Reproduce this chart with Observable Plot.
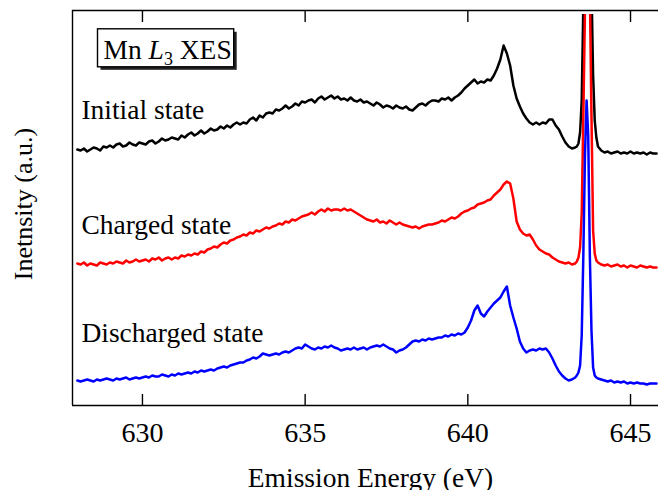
<!DOCTYPE html>
<html><head><meta charset="utf-8">
<script src="https://cdn.jsdelivr.net/npm/d3@7"></script>
<script src="https://cdn.jsdelivr.net/npm/@observablehq/plot@0.6"></script>
<style>html,body{margin:0;padding:0;background:#fff} svg{display:block}</style>
</head><body><div id="chart"></div>
<script>
const energy = [
628.0,628.1,628.2,628.3,628.4,628.5,628.6,628.7,628.8,628.9,
629.0,629.1,629.2,629.3,629.4,629.5,629.6,629.7,629.8,629.9,
630.0,630.1,630.2,630.3,630.4,630.5,630.6,630.7,630.8,630.9,
631.0,631.1,631.2,631.3,631.4,631.5,631.6,631.7,631.8,631.9,
632.0,632.1,632.2,632.3,632.4,632.5,632.6,632.7,632.8,632.9,
633.0,633.1,633.2,633.3,633.4,633.5,633.6,633.7,633.8,633.9,
634.0,634.1,634.2,634.3,634.4,634.5,634.6,634.7,634.8,634.9,
635.0,635.1,635.2,635.3,635.4,635.5,635.6,635.7,635.8,635.9,
636.0,636.1,636.2,636.3,636.4,636.5,636.6,636.7,636.8,636.9,
637.0,637.1,637.2,637.3,637.4,637.5,637.6,637.7,637.8,637.9,
638.0,638.1,638.2,638.3,638.4,638.5,638.6,638.7,638.8,638.9,
639.0,639.1,639.2,639.3,639.4,639.5,639.6,639.7,639.8,639.9,
640.0,640.1,640.2,640.3,640.4,640.5,640.6,640.7,640.8,640.9,
641.0,641.1,641.2,641.3,641.4,641.5,641.6,641.7,641.8,641.9,
642.0,642.1,642.2,642.3,642.4,642.5,642.6,642.7,642.8,642.9,
643.0,643.1,643.2,643.3,
643.35,643.4,643.45,643.5,643.55,643.6,643.65,643.7,643.75,643.8,643.85,643.9,643.95,644.0,
644.1,644.2,644.3,644.4,644.5,644.6,644.7,644.8,644.9,645.0,645.1,645.2,645.3,645.4,645.5,645.6,645.7,645.8
];
const initialState = [
256,255,257,254,256,258,257,255,259,258,
260,258,261,262,259,260,263,261,260,263,
262,261,264,265,262,264,267,265,266,268,
267,266,270,268,271,273,270,272,275,272,
274,277,275,276,279,277,280,278,281,283,
281,283,282,286,288,285,290,288,292,293,
292,296,295,297,300,297,299,302,300,304,
303,305,306,303,307,309,306,308,310,307,
309,306,307,305,308,305,304,306,303,304,
302,300,303,301,298,300,299,297,300,298,
297,299,296,295,298,301,302,300,303,305,
305,304,307,306,308,305,308,310,313,317,
320,323,326,322,324,323,326,325,330,337,
346,360,352,340,320,307,299,292,287,283,
281,283,281,283,282,286,286,280,276,269,
263,259,257,258,
259,262,273,305,400,560,650,640,540,420,330,285,268,259,
255,253,254,252,253,254,252,253,252,254,252,253,252,253,251,253,252,252
];
const chargedState = [
142,141,143,140,142,141,140,143,142,141,
143,142,144,143,142,145,143,144,146,144,
145,146,144,147,146,148,145,147,148,146,
148,147,150,149,151,150,152,151,154,153,
156,157,159,158,161,163,162,165,166,168,
169,171,170,173,172,175,174,176,178,177,
179,180,182,181,184,183,186,185,187,189,
190,191,193,191,194,196,194,197,195,196,
196,195,197,195,196,194,192,190,188,186,
185,184,186,183,184,182,185,183,181,183,
181,180,179,178,179,177,179,180,181,181,
182,183,185,184,186,188,187,189,192,194,
195,197,198,201,202,203,205,206,210,213,
216,221,224,222,207,184,176,172,170,171,
166,160,156,154,152,151,148,146,144,143,
142,143,141,142,
144,148,158,192,290,395,500,480,415,290,175,152,145,143,
141,140,141,139,140,141,139,140,138,140,139,138,140,139,138,139,138,138
];
const dischargedState = [
25,24,25,26,25,24,26,25,26,27,
26,25,27,26,27,28,26,27,28,27,
28,29,28,30,29,29,31,30,29,31,
30,32,31,32,33,32,34,33,35,34,
35,36,35,37,38,39,38,40,41,42,
43,43,45,46,48,47,49,52,51,50,
51,52,51,53,54,53,55,57,58,57,
61,59,57,56,58,57,59,58,60,58,
57,55,56,57,56,58,56,57,58,56,
58,59,60,59,61,59,57,56,53,55,
56,58,61,64,65,64,66,65,67,66,
67,68,68,70,69,71,70,72,71,73,
78,85,95,100,92,89,94,98,102,105,
108,114,119,100,88,77,64,57,53,55,
56,55,57,56,57,53,47,40,34,30,
27,25,26,28,
30,33,40,70,150,250,305,270,150,75,38,30,28,27,
26,25,24,25,23,24,23,24,22,23,22,23,22,22,21,22,22,22
];
const seriesNames = ["Initial state", "Charged state", "Discharged state"];
const seriesColors = ["#000000", "#ff0000", "#0000ff"];
const xTicks = [630, 635, 640, 645];
const xDomain = [627.85, 645.86];
const yDomain = [0, 391];
const xTitle = "Emission Energy (eV)";
const yTitle = "Inetnsity (a.u.)";
const boxLabel = "Mn L3 XES";

const seriesValues = [initialState, chargedState, dischargedState];
const rows = seriesValues.flatMap((vals, i) =>
  vals.map((v, j) => ({series: seriesNames[i], energy: energy[j], intensity: v})));
const starts = seriesValues.map((vals, i) =>
  ({series: seriesNames[i], energy: energy[0], intensity: vals[0]}));

const font = "'Liberation Serif','Times New Roman',serif";
const frameW = 1.4;
const fs = 27.5;

const svg = Plot.plot({
  width: 658, height: 490,
  marginLeft: 72, marginRight: 0, marginTop: 14, marginBottom: 85,
  style: {fontFamily: font, background: "#fff", color: "#000", overflow: "visible"},
  x: {domain: xDomain},
  y: {domain: yDomain, axis: null},
  color: {domain: seriesNames, range: seriesColors},
  marks: [
    Plot.line(rows, {x: "energy", y: "intensity", z: "series", stroke: "series", strokeWidth: 2.5, clip: true}),
    Plot.ruleY([yDomain[0]], {stroke: "#000", strokeWidth: frameW}),
    Plot.ruleY([yDomain[1]], {stroke: "#000", strokeWidth: frameW, dy: -4}),
    Plot.ruleX([xDomain[0]], {stroke: "#000", strokeWidth: frameW, insetTop: -4}),
    Plot.axisX(xTicks, {anchor: "bottom", tickSize: -11, tickPadding: 27.5, fontSize: 28, fontFamily: font, label: null, strokeWidth: frameW}),
    Plot.axisX(xTicks, {anchor: "top", tickSize: -11, dy: -4, tickFormat: () => "", label: null, strokeWidth: frameW}),
    Plot.text([starts[0]], {x: "energy", y: "intensity", text: "series", textAnchor: "start", lineAnchor: "middle", dx: 4, dy: -39.8, fontSize: fs, fill: "#000"}),
    Plot.text([starts[1]], {x: "energy", y: "intensity", text: "series", textAnchor: "start", lineAnchor: "middle", dx: 4, dy: -38.5, fontSize: fs, fill: "#000"}),
    Plot.text([starts[2]], {x: "energy", y: "intensity", text: "series", textAnchor: "start", lineAnchor: "middle", dx: 4, dy: -47.1, fontSize: fs, fill: "#000"}),
    Plot.text([xTitle], {frameAnchor: "bottom", text: d => d, textAnchor: "middle", lineAnchor: "middle", dx: 5, dy: 72.9, fontSize: fs, fill: "#000"}),
    Plot.text([yTitle], {frameAnchor: "left", text: d => d, rotate: -90, textAnchor: "middle", lineAnchor: "middle", dx: -49, dy: -6, fontSize: 26, fill: "#000"}),
    Plot.text([boxLabel], {frameAnchor: "top-left", text: d => d, textAnchor: "start", lineAnchor: "middle", dx: 31, dy: 35.5, fontSize: fs, fill: "#000"})
  ]
});
document.getElementById("chart").appendChild(svg);

// Rich formatting of the inset label: italic L with subscript 3, in a shadowed box
const ns = "http://www.w3.org/2000/svg";
const boxText = Array.from(svg.querySelectorAll("text")).find(t => t.textContent === boxLabel);
if (boxText) {
  boxText.textContent = "";
  const parts = [["Mn ", {}], ["L", {"font-style": "italic"}], ["3", {"font-size": 18, "dy": 6}], [" XES", {"dy": -6}]];
  for (const [str, attrs] of parts) {
    const ts = document.createElementNS(ns, "tspan");
    for (const k in attrs) ts.setAttribute(k, attrs[k]);
    ts.textContent = str;
    boxText.appendChild(ts);
  }
  const bb = boxText.getBBox();
  const parent = boxText.parentNode;
  const tr = boxText.getAttribute("transform");
  const rx = bb.x - 6, ry = bb.y - 5, rw = bb.width + 8, rh = bb.height + 3;
  const shadow = document.createElementNS(ns, "rect");
  shadow.setAttribute("x", rx + 3); shadow.setAttribute("y", ry + 3);
  shadow.setAttribute("width", rw); shadow.setAttribute("height", rh);
  shadow.setAttribute("fill", "#222");
  const box = document.createElementNS(ns, "rect");
  box.setAttribute("x", rx); box.setAttribute("y", ry);
  box.setAttribute("width", rw); box.setAttribute("height", rh);
  box.setAttribute("fill", "#fff"); box.setAttribute("stroke", "#000"); box.setAttribute("stroke-width", 1.4);
  if (tr) { shadow.setAttribute("transform", tr); box.setAttribute("transform", tr); }
  parent.insertBefore(shadow, boxText);
  parent.insertBefore(box, boxText);
}
</script>
</body></html>
